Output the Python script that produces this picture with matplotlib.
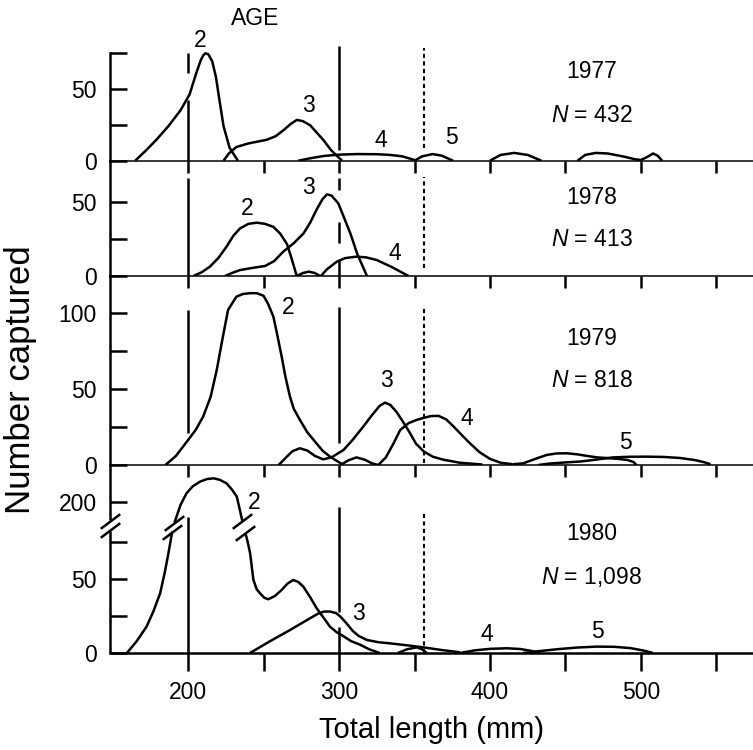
import matplotlib
matplotlib.use('Agg')
import matplotlib.pyplot as plt
from matplotlib.path import Path

plt.rcParams['font.family'] = 'Liberation Sans'
plt.rcParams['mathtext.fontset'] = 'custom'
plt.rcParams['mathtext.it'] = 'Liberation Sans:italic'
plt.rcParams['mathtext.rm'] = 'Liberation Sans'

# ---- data: total length (mm) vs number captured ----
years = ['1977', '1978', '1979', '1980']
n_text = ['432', '413', '818', '1,098']

# 1977
x77_a2 = [165, 172, 179, 187, 195, 201, 205.5, 208.5, 210, 211.5, 213.5, 216, 218.5, 220.5, 223.5, 227.5, 233]
y77_a2 = [0, 7, 14.5, 24, 35, 46, 61, 70, 73, 74.6, 73.8, 69, 58, 44, 24, 9, 0]
x77_a3 = [223.5, 227, 232, 240, 252, 258, 263, 268, 272, 276, 281, 289.5, 295, 302]
y77_a3 = [0, 5, 9.5, 12, 14.5, 17, 21, 25.5, 28.3, 27.5, 24.5, 14.5, 7, 0]
x77_a4 = [273, 280, 290, 300, 312, 325, 334, 342, 350]
y77_a4 = [0, 1.5, 3.3, 4.2, 4.6, 4.5, 4.0, 3, 0.5]
x77_a5 = [350, 355, 362, 368, 375.5]
y77_a5 = [0, 3, 4.6, 3.5, 0]
x77_b1 = [400, 407, 416, 425, 434]
y77_b1 = [0, 4, 5.4, 4, 0]
x77_b2 = [458, 463, 470, 478, 488, 496, 500, 504, 508, 511, 514]
y77_b2 = [0, 4, 5.4, 5, 3, 1, 0.5, 2.5, 5, 3.5, 0]

# 1978
x78_a2 = [203.5, 209, 214.5, 220, 225.5, 230, 234.5, 240, 245.5, 251, 256.5, 261, 265.5, 268.5, 272]
y78_a2 = [0, 2.5, 6.3, 12, 19.7, 27, 32, 35, 35.8, 35, 33, 28.5, 21.5, 12, 0]
x78_b1 = [272, 276, 280, 284, 287.5]
y78_b1 = [0, 2, 2.9, 2, 0]
x78_a3 = [224.5, 229, 234.5, 243, 251, 257, 263, 270, 276.5, 281, 285, 289, 292, 295, 299.5, 303, 307.5, 312, 318.5]
y78_a3 = [0, 2, 4, 5.5, 6.7, 10, 16.3, 22, 28.6, 36, 44.3, 51.5, 54.8, 54, 48.8, 40, 28.6, 15, 0]
x78_a4 = [288, 292, 298.5, 304, 311.5, 318, 325, 335, 346]
y78_a4 = [0, 4.5, 9.6, 12, 13, 12.5, 10.7, 6, 0]

# 1979
x79_a2 = [185, 192, 200, 205, 210, 215, 219, 223, 226.5, 232, 236.5, 241, 245.5, 250, 253, 256.5,
          259, 262, 264.5, 267.5, 270, 274, 279, 285, 289, 294, 298, 303]
y79_a2 = [0, 6, 16.4, 23, 31.8, 45, 62.5, 84, 102, 110.7, 112.5, 113, 113, 111.3, 106, 97.6,
          86, 71.3, 58, 45, 37, 29.8, 21.5, 14.3, 9.5, 5.5, 3, 0]
x79_a3 = [260, 264, 269, 274, 279, 284, 289.5, 295, 303, 309, 316, 322, 327, 330.5, 334, 338,
          342, 347, 351, 356, 362, 369, 380, 395]
y79_a3 = [0, 4, 9, 11, 9.5, 6, 3.7, 5, 9.9, 16.5, 25.2, 33, 39, 41, 39.5, 35,
          29, 21, 14, 9, 5.5, 3.5, 1.5, 0.3]
x79_a4 = [301, 306, 311.5, 317, 322, 326, 331, 336, 340.5, 346, 351, 356, 361, 366, 371, 376,
          381, 387, 393, 400, 407, 415]
y79_a4 = [0, 3, 5, 3.5, 1, 0, 5, 14, 23, 27.5, 29.5, 31, 32.2, 32.3, 30, 25.2,
          20, 14, 8.5, 4, 1.5, 0.5]
x79_b1 = [415, 422, 430, 437.5, 444, 451, 458, 464, 471, 477, 485, 491, 495, 497]
y79_b1 = [0.5, 1.1, 4, 6.6, 7.6, 7.7, 7, 6, 5, 4.6, 4, 3.3, 2, 0]
x79_a5 = [432, 440, 450, 460, 470, 481.5, 492, 504, 515, 526, 536, 542, 546]
y79_a5 = [0, 1, 1.7, 2.3, 3.5, 5, 5.4, 5.5, 5.3, 4.6, 3.2, 1.8, 0.5]

# 1980 (age 2 peak drawn above a broken axis)
x80_a2_lo = [159.5, 166, 172.5, 177, 181.5, 184.5, 187, 189.5]
y80_a2_lo = [0, 8, 17.8, 28, 40.3, 54, 67.4, 82]
x80_a2_hi = [191, 195, 199, 203, 208, 212.5, 217, 221, 225.5, 229, 232.3, 236]
y80_a2_hi = [186, 198, 205.9, 210.5, 213.8, 215.5, 216, 215, 212.6, 208.5, 203.6, 187]
x80_a2_rt = [238, 239.5, 241.1, 243.3, 245.5, 247.7, 250.5, 253.2, 257.5, 262, 266, 269.7, 273,
             276.4, 281, 285.2, 290, 294, 298.5, 303, 308, 314, 320, 327]
y80_a2_rt = [81, 75, 67.4, 49.3, 43, 40.3, 37.3, 36.3, 38.5, 42.6, 47, 49.3, 48,
             44.8, 37.5, 30.2, 23.5, 17.8, 14, 11.3, 8, 5.6, 2.5, 0]
x80_a3 = [241, 254, 267.5, 280, 286, 290, 294, 298, 301, 305, 309, 313, 318.5, 326, 334, 345,
          356, 368, 380]
y80_a3 = [0, 7.8, 15.5, 23, 26.5, 28, 28, 27, 24.5, 20, 15, 11.5, 8.8, 7.3, 6.5, 5.2,
          3.8, 2, 0.5]
x80_b1 = [339, 345, 351.5, 355, 358]
y80_b1 = [0, 2.5, 3.8, 2.5, 0]
x80_a4 = [380, 390, 400, 411, 420, 427, 433]
y80_a4 = [0, 1.8, 2.8, 3.2, 2.7, 1.5, 0]
x80_a5 = [422, 432, 445, 458, 470.5, 482, 493, 501, 508]
y80_a5 = [0, 1.2, 2.6, 3.7, 4.3, 4.2, 3.3, 1.8, 0]

BREAK_SHIFT = 98   # counts above the axis break are drawn lowered by this amount

# reference lines (length mm, y from, y to)
solid77 = [(200, 60.9, 74.8), (200, 0, 42.2), (300, 7.4, 79.9)]
solid78 = [(200, 0, 65.8), (300, 57.7, 65.8), (300, 22.1, 36.2), (300, 0, 10.7)]
solid79 = [(200, 21, 102), (300, 14.5, 104)]
solid80 = [(200, 0, 91.9), (300, 27.7, 98.6), (300, 0, 17.6)]
dotted = [(356, 8.8, 78.3), (356, 5.4, 66.4), (356, 1.3, 103.3), (356, 0, 95.3)]

# ---- figure ----
W, H = 753, 750
fig = plt.figure(figsize=(W / 100, H / 100), dpi=100)

LW = 1.8
FS = 16.5
XL = (148.3, 574.2)
xticks = [200, 250, 300, 350, 400, 450, 500, 550]

# baseline px, top px, ymax
layout = [(160.7, 42.6, 82), (276, 160.7, 77.4), (465, 276, 124.3), (653, 465, 127)]
axs = []
for base, top, ymax in layout:
    ax = fig.add_axes([110 / W, 1 - base / H, 643 / W, (base - top) / H])
    ax.patch.set_visible(False)
    ax.set_xlim(*XL)
    ax.set_ylim(0, ymax)
    for s in ['top', 'right']:
        ax.spines[s].set_visible(False)
    ax.spines['left'].set_linewidth(LW)
    ax.spines['bottom'].set_linewidth(1.1)
    ax.set_xticks(xticks)
    ax.tick_params(axis='x', direction='out', length=8.6, width=LW, labelbottom=False)
    ax.tick_params(axis='y', direction='in', length=12.2, width=LW, pad=9.4, labelsize=FS)
    axs.append(ax)

ax1, ax2, ax3, ax4 = axs
ax1.spines['left'].set_bounds(0, 75)
ax1.set_yticks([0, 25, 50, 75], ['0', '', '50', ''])
ax2.set_yticks([0, 25, 50], ['0', '', '50'])
ax3.set_yticks([0, 25, 50, 75, 100], ['0', '', '50', '', '100'])
ax4.set_yticks([0, 25, 50, 75, 200 - BREAK_SHIFT], ['0', '', '50', '', '200'])
ax4.spines['bottom'].set_linewidth(LW)
ax4.tick_params(axis='x', length=13, pad=7, labelbottom=True, labelsize=FS)
ax4.set_xticklabels(['200', '', '300', '', '400', '', '500', ''])

# broken left spine of the 1980 panel
ax4.spines['left'].set_visible(False)
ax4.plot([XL[0], XL[0]], [0, 82.5], color='k', lw=LW, clip_on=False, solid_capstyle='butt')
ax4.plot([XL[0], XL[0]], [90, 127], color='k', lw=LW, clip_on=False, solid_capstyle='butt')

slash = Path([(-1, -0.75), (1, 0.75)], [Path.MOVETO, Path.LINETO])
ax4.plot([XL[0], XL[0]], [83.3, 89.2], ls='none', marker=slash, ms=14, mew=LW,
         color='k', clip_on=False)

curves = {
    ax1: [(x77_a2, y77_a2), (x77_a3, y77_a3), (x77_a4, y77_a4), (x77_a5, y77_a5),
          (x77_b1, y77_b1), (x77_b2, y77_b2)],
    ax2: [(x78_a2, y78_a2), (x78_b1, y78_b1), (x78_a3, y78_a3), (x78_a4, y78_a4)],
    ax3: [(x79_a2, y79_a2), (x79_a3, y79_a3), (x79_a4, y79_a4), (x79_b1, y79_b1),
          (x79_a5, y79_a5)],
    ax4: [(x80_a2_lo, y80_a2_lo), (x80_a2_rt, y80_a2_rt), (x80_a3, y80_a3),
          (x80_b1, y80_b1), (x80_a4, y80_a4), (x80_a5, y80_a5),
          (x80_a2_hi, [v - BREAK_SHIFT for v in y80_a2_hi])],
}
for ax, lst in curves.items():
    for xs, ys in lst:
        ax.plot(xs, ys, color='k', lw=LW, solid_joinstyle='round', solid_capstyle='butt')

# break marks on the 1980 age-2 curve
ends = [(x80_a2_lo[-1], y80_a2_lo[-1]), (x80_a2_hi[0], y80_a2_hi[0] - BREAK_SHIFT),
        (x80_a2_hi[-1], y80_a2_hi[-1] - BREAK_SHIFT), (x80_a2_rt[0], y80_a2_rt[0])]
ax4.plot([e[0] for e in ends], [e[1] for e in ends], ls='none', marker=slash, ms=14,
         mew=LW, color='k')

for ax, segs, dot in zip(axs, [solid77, solid78, solid79, solid80], dotted):
    for x, y0, y1 in segs:
        ax.plot([x, x], [y0, y1], color='k', lw=LW, solid_capstyle='butt')
    ax.plot([dot[0], dot[0]], [dot[1], dot[2]], color='k', lw=1.5, ls=(0, (2.0, 1.6)))

# year / N labels
for ax, yr, n, (ty, ny) in zip(axs, years, n_text,
                               [(61.6, 31.7), (53, 24.8), (83.2, 55.3), (81, 51.6)]):
    ax.text(467.5, ty, yr, ha='center', va='center', fontsize=FS)
    ax.text(467.5, ny, r'$N$ = ' + n, ha='center', va='center', fontsize=FS)

# age labels on curves
ax1.text(244.5, 98.5, 'AGE', ha='center', va='center', fontsize=FS)
for ax, labs in [(ax1, [('2', 207.9, 83.8), ('3', 279.5, 38), ('4', 327.8, 13.7), ('5', 374.8, 15.8)]),
                 (ax2, [('2', 239.1, 45.6), ('3', 279.5, 59.7), ('4', 337.1, 14.8)]),
                 (ax3, [('2', 266.2, 103.3), ('3', 331.1, 55.9), ('4', 384.8, 30.9), ('5', 489.4, 14.5)]),
                 (ax4, [('2', 243.7, 101.4), ('3', 312.6, 26.4), ('4', 398, 12.2), ('5', 470.9, 14.2)])]:
    for t, x, y in labs:
        ax.text(x, y, t, ha='center', va='center', fontsize=FS)

fig.text(431 / W, 1 - 730 / H, 'Total length (mm)', ha='center', va='center', fontsize=21)
fig.text(21 / W, 1 - 380 / H, 'Number captured', rotation=90, ha='center', va='center',
         fontsize=25)

fig.savefig('out.png', dpi=100)
